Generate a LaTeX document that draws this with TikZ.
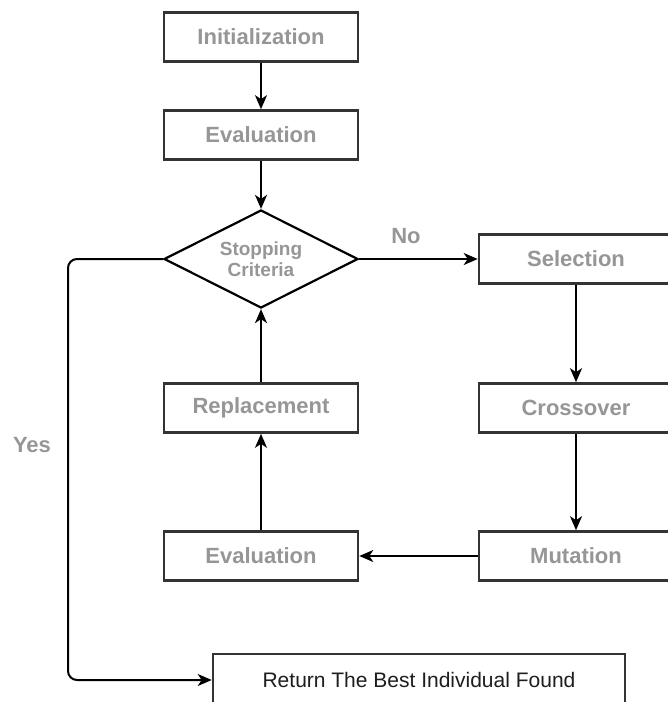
\documentclass[tikz,border=0pt]{standalone}
\usepackage{fontspec}
\setmainfont{Liberation Sans}
\usetikzlibrary{shapes.geometric,arrows.meta}
\definecolor{lbl}{RGB}{150,150,150}
\definecolor{edge}{RGB}{51,51,51}
\begin{document}
\begin{tikzpicture}[x=1pt,y=-1pt,
  stepbox/.style={draw=edge,line width=2.6pt,fill=white,rectangle,minimum width=194pt,minimum height=49pt,inner sep=0pt,
    font=\fontsize{22}{24}\selectfont\bfseries,text=lbl},
  decide/.style={draw=black,line width=2.2pt,fill=white,diamond,aspect=2,minimum width=194pt,minimum height=98pt,inner sep=0pt,
    font=\fontsize{19}{21}\selectfont\bfseries,text=lbl,align=center},
  finalbox/.style={draw=edge,line width=2.6pt,fill=white,rectangle,minimum width=412pt,minimum height=52pt,inner sep=0pt,
    font=\fontsize{21}{23}\selectfont,text={rgb,255:red,30;green,30;blue,30}},
  conn/.style={draw=black,line width=2pt,-{Stealth[length=14pt,width=12pt,inset=4pt]}},
  tag/.style={font=\fontsize{22}{24}\selectfont\bfseries,text=lbl}]
\useasboundingbox (0,0) rectangle (668,702);
\clip (0,0) rectangle (668,702);
\node[stepbox] (init) at (261,37) {Initialization};
\node[stepbox] (eval1) at (261,135) {Evaluation};
\node[decide] (stop) at (261,259) {Stopping\\Criteria};
\node[stepbox] (sel) at (576,259) {Selection};
\node[stepbox] (cross) at (576,408) {Crossover};
\node[stepbox] (mut) at (576,556) {Mutation};
\node[stepbox] (eval2) at (261,556) {Evaluation};
\node[stepbox] (repl) at (261,408) {Replacement};
\node[finalbox] (ret) at (419,680) {Return The Best Individual Found};
\coordinate (c1) at (68,259);
\coordinate (c2) at (68,680);
\node[tag] (no) at (406,236) {No};
\node[tag] (yes) at (32,445) {Yes};
\draw[conn] (init) -- (eval1);
\draw[conn] (eval1) -- (stop);
\draw[conn] (stop) -- (sel);
\draw[conn] (sel) -- (cross);
\draw[conn] (cross) -- (mut);
\draw[conn] (mut) -- (eval2);
\draw[conn] (eval2) -- (repl);
\draw[conn] (repl) -- (stop);
\draw[conn,rounded corners=9pt] (stop.west) -- (c1) -- (c2) -- (ret.west);
\end{tikzpicture}
\end{document}
